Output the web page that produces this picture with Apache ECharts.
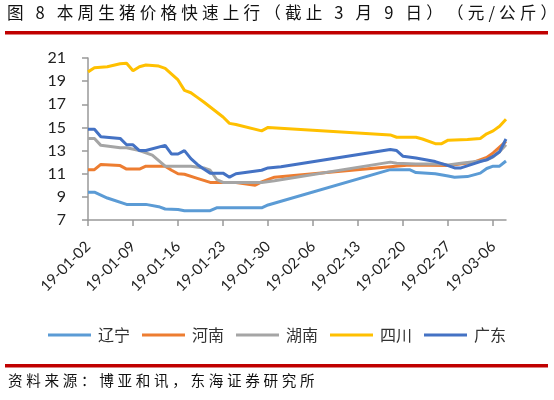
<!DOCTYPE html>
<html><head><meta charset="utf-8">
<script src="https://cdn.jsdelivr.net/npm/echarts@6/dist/echarts.min.js"></script>
<style>html,body{margin:0;padding:0;background:#fff}#c{width:554px;height:400px}</style>
</head><body><div id="c"></div>
<script>
// Daily categories from 2019-01-02 to 2019-03-08 (index = day offset)
const startDate = new Date(2019, 0, 2);
const dayCount = 66;
const categories = [];
for (let i = 0; i < dayCount; i++) {
  const d = new Date(startDate.getTime() + i * 86400000);
  categories.push('19-' + String(d.getMonth() + 1).padStart(2, '0') + '-' + String(d.getDate()).padStart(2, '0'));
}
const yTicks = [7, 9, 11, 13, 15, 17, 19, 21];
const seriesNames = ['辽宁', '河南', '湖南', '四川', '广东'];
const titleText = '图 8 本周生猪价格快速上行（截止 3 月 9 日）（元/公斤）';
const sourceText = '资料来源：博亚和讯，东海证券研究所';

// [day index, price 元/公斤]
const liaoning = [[0,9.4],[1,9.4],[3,8.9],[6,8.35],[9,8.35],[11,8.15],[12,7.95],[14,7.9],[15,7.8],[19,7.8],[20,8.05],[27,8.05],[28,8.3],[47,11.35],[50,11.35],[51,11.1],[54,11.0],[56,10.8],[57,10.7],[59,10.75],[61,11.05],[62,11.45],[63,11.65],[64,11.65],[65,12.1]];
const henan = [[0,11.35],[1,11.35],[2,11.8],[5,11.7],[6,11.4],[8,11.4],[9,11.65],[12,11.65],[13,11.3],[14,11.0],[15,10.95],[17,10.6],[19,10.25],[23,10.25],[26,10.0],[27,10.3],[29,10.7],[47,11.6],[50,11.75],[56,11.7],[60,12.0],[62,12.4],[63,12.8],[64,13.3],[65,13.8]];
const hunan = [[0,14.05],[1,14.05],[2,13.45],[5,13.25],[6,13.25],[8,13.0],[9,12.8],[10,12.6],[12,11.65],[16,11.65],[18,11.5],[19,11.3],[20,10.5],[21,10.25],[27,10.25],[29,10.4],[47,12.0],[48,11.9],[51,11.85],[55,11.85],[56,11.75],[58,11.9],[61,12.1],[62,12.2],[63,12.45],[64,12.9],[65,13.5]];
const sichuan = [[0,19.8],[1,20.15],[3,20.25],[5,20.5],[6,20.55],[7,19.9],[8,20.25],[9,20.4],[11,20.3],[12,20.1],[13,19.6],[14,19.1],[15,18.2],[16,18.0],[17,17.6],[18,17.2],[21,15.9],[22,15.35],[23,15.25],[27,14.7],[28,15.0],[47,14.35],[48,14.15],[51,14.15],[52,14.0],[54,13.6],[55,13.6],[56,13.9],[59,13.95],[61,14.05],[62,14.45],[63,14.7],[64,15.1],[65,15.7]];
const guangdong = [[0,14.85],[1,14.85],[2,14.2],[5,14.05],[6,13.5],[7,13.5],[8,13.0],[9,13.0],[12,13.45],[13,12.7],[14,12.7],[15,13.0],[16,12.3],[17,11.8],[18,11.4],[19,11.05],[21,11.05],[22,10.7],[23,11.0],[27,11.3],[28,11.5],[30,11.6],[47,13.1],[48,13.0],[49,12.5],[51,12.35],[54,12.05],[56,11.7],[57,11.5],[58,11.5],[61,12.05],[62,12.2],[63,12.5],[64,12.9],[65,14.0]];

const colors = ['#5B9BD5', '#ED7D31', '#A5A5A5', '#FFC000', '#4472C4'];
const allData = [liaoning, henan, hunan, sichuan, guangdong];
const font = 'Lato, "Noto Sans CJK SC", sans-serif';
const cjk = '"Noto Sans CJK SC", sans-serif';
// letter-spaced text (visual spacing between glyphs)
const spaced = s => Array.from(s).join('\u2005');

const chart = echarts.init(document.getElementById('c'));
chart.setOption({
  animation: false,
  graphic: [
    { type: 'text', left: 7, top: 4, style: { text: spaced(titleText), fontSize: 16.6, fill: '#111', fontFamily: cjk } },
    { type: 'rect', shape: { x: 5, y: 31, width: 543, height: 3.5 }, style: { fill: '#C00000' } },
    { type: 'rect', shape: { x: 5, y: 364, width: 543, height: 3.5 }, style: { fill: '#C00000' } },
    { type: 'text', left: 8, top: 373, style: { text: spaced(sourceText), fontSize: 14.6, fill: '#111', fontFamily: cjk } }
  ],
  legend: {
    data: seriesNames,
    top: 322,
    left: 'center',
    icon: 'rect',
    itemWidth: 43,
    itemHeight: 3,
    itemGap: 12,
    textStyle: { fontSize: 16, color: '#333', fontFamily: cjk, padding: [0, 0, 0, 2] }
  },
  grid: { left: 88, top: 58, right: 48, bottom: 180 },
  xAxis: {
    type: 'category',
    data: categories,
    boundaryGap: false,
    axisLine: { lineStyle: { color: '#999', width: 1.5 } },
    axisTick: { interval: 6, length: 6, lineStyle: { color: '#999', width: 1.5 } },
    axisLabel: { interval: 6, rotate: 45, fontSize: 15, color: '#222', margin: 24, fontFamily: font }
  },
  yAxis: {
    type: 'value',
    min: 7, max: 21, interval: 2,
    axisLine: { show: true, lineStyle: { color: '#999', width: 1.5 } },
    axisTick: { show: true, length: 6, lineStyle: { color: '#999', width: 1.5 } },
    splitLine: { show: false },
    axisLabel: { fontSize: 16, color: '#222', margin: 22, fontFamily: font }
  },
  series: seriesNames.map((n, i) => ({
    name: n,
    type: 'line',
    data: allData[i],
    showSymbol: false,
    symbol: 'none',
    color: colors[i],
    lineStyle: { width: 3, color: colors[i] }
  }))
});
</script></body></html>
